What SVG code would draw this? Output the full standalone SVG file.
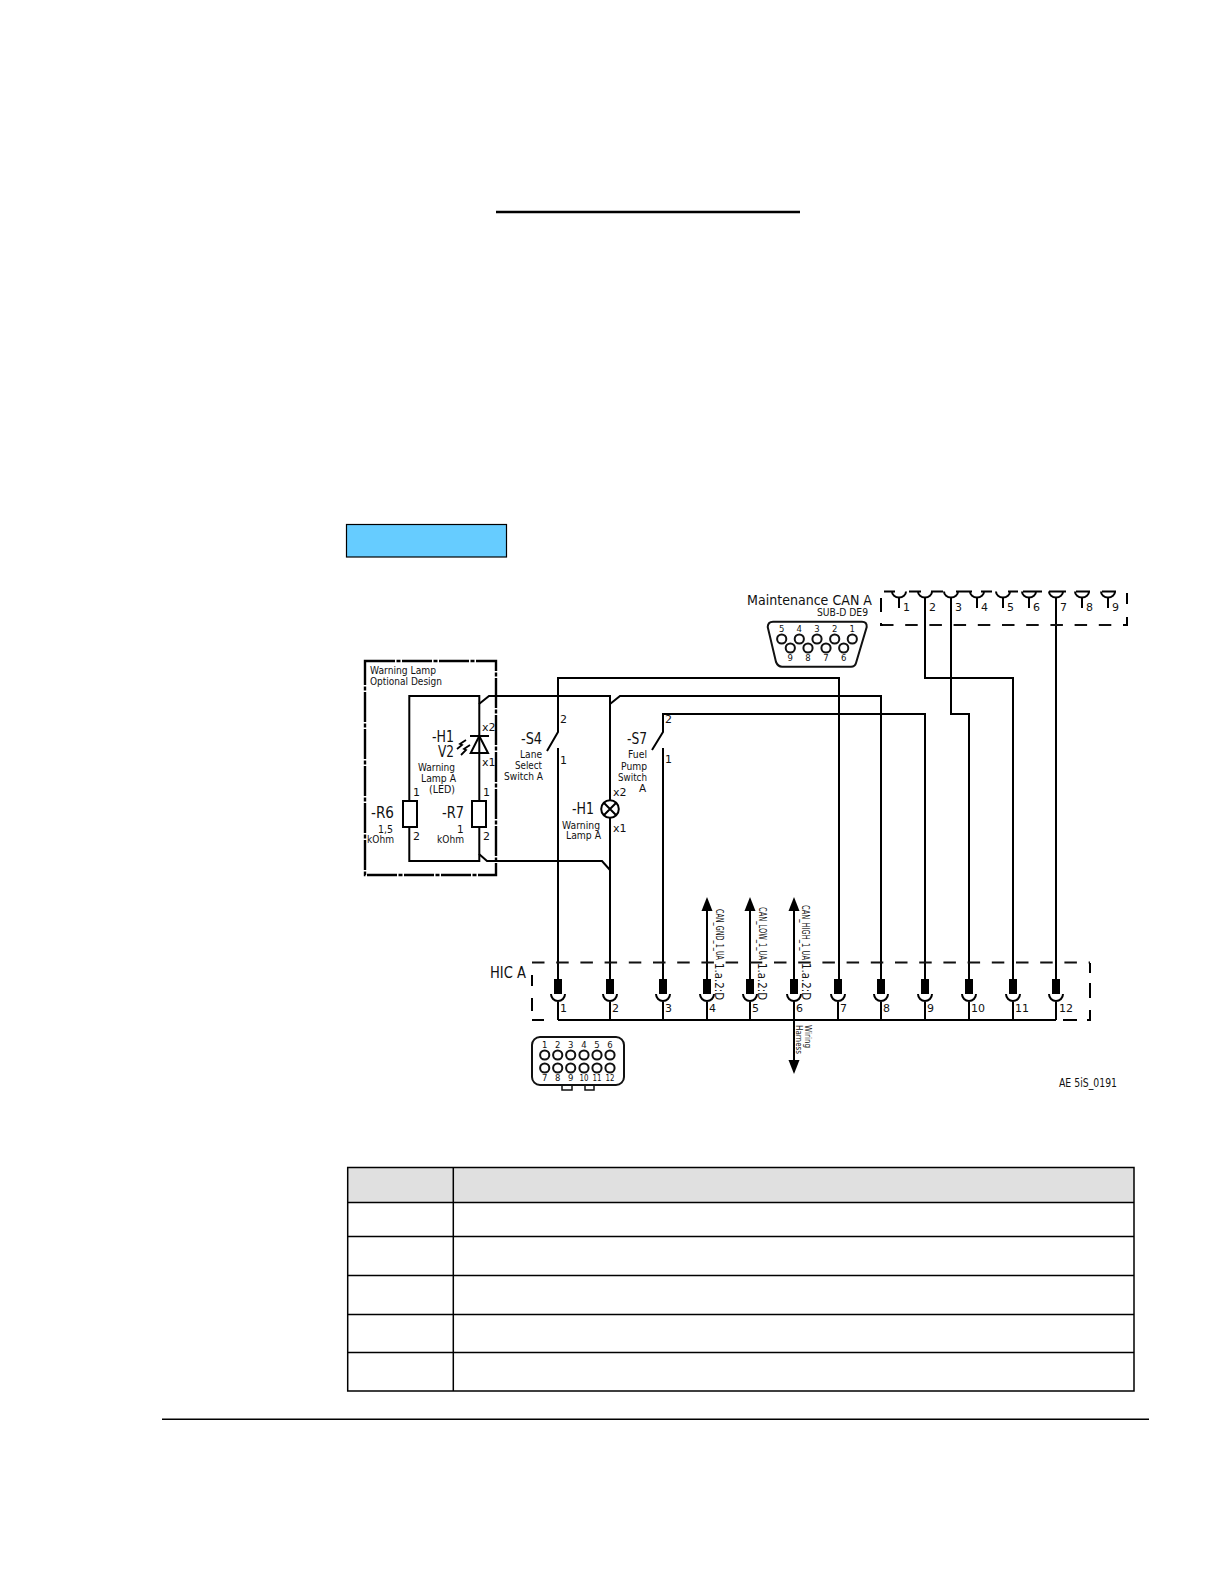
<svg xmlns="http://www.w3.org/2000/svg" xmlns:xlink="http://www.w3.org/1999/xlink" width="1224" height="1584" viewBox="0 0 1224 1584">
<style>
text{font-family:"DejaVu Sans","Noto Sans",sans-serif;fill:#111;font-size:10.5px}
.w{fill:none;stroke:#000;stroke-width:2;stroke-linejoin:miter}
.t{fill:none;stroke:#000;stroke-width:1.5}
.d{fill:none;stroke:#111;stroke-width:2;stroke-dasharray:12.5 11.7}
.s{font-size:8.5px}
.m{font-size:11px}
.l{font-size:15px}
.c{fill:#fff;stroke:#111;stroke-width:2}
</style>
<defs>
<g id="pin"><rect x="-4" y="979" width="8" height="15" fill="#000"/><path class="w" d="M-7 994A7 7 0 0 0 7 994M0 1001V1020"/></g>
<g id="cup"><path class="w" d="M-7 591.5A7 6 0 0 0 7 591.5"/></g>
</defs>
<rect width="1224" height="1584" fill="#fff"/>
<g id="page">
<line x1="496" y1="212" x2="800" y2="212" stroke="#000" stroke-width="2.4"/>
<rect id="blue-box" x="346.5" y="524.5" width="160" height="32.5" fill="#66CCFF" stroke="#000" stroke-width="1.2"/>
<line x1="162" y1="1419.2" x2="1149" y2="1419.2" stroke="#000" stroke-width="1.4"/>
</g>
<g id="table">
<rect x="347.7" y="1167.5" width="786.3" height="35" fill="#E0E0E0"/>
<path class="t" d="M347.7 1167.5H1134V1391H347.7ZM453.3 1167.5V1391M347.7 1202.5H1134M347.7 1236.5H1134M347.7 1275.5H1134M347.7 1314.5H1134M347.7 1352.5H1134"/>
</g>
<g id="connectors">
<path class="w" d="M547 751L558 732V678H839V979"/>
<path class="w" d="M558 748V979"/>
<path class="w" d="M479 704L489 696H610V800M610 818V979"/>
<path class="w" d="M610 704L620 696H881V979"/>
<path class="w" d="M479 854L487 861H602L610 870"/>
<path class="w" d="M652 750L663 732V714H925V979"/>
<path class="w" d="M663 748V979"/>
<path class="w" d="M925 597V678H1013V979"/>
<path class="w" d="M951 597V714H969V979"/>
<path class="w" d="M1056 597V979"/>
<path class="w" d="M558 1020H1056"/>
<path class="w" d="M707 908V979M750 908V979M794 908V979M794 1001V1062"/>
<polygon points="707,897 701.5,911 712.5,911" fill="#000"/>
<polygon points="750,897 744.5,911 755.5,911" fill="#000"/>
<polygon points="794,897 788.5,911 799.5,911" fill="#000"/>
<polygon points="794,1074 788.5,1060 799.5,1060" fill="#000"/>
</g>
<g id="warning-lamp-box">
<rect x="365" y="661" width="131" height="214" fill="none" stroke="#000" stroke-width="2.4" stroke-dasharray="30 1.5 4 1.5"/>
<text x="370" y="674" textLength="66" lengthAdjust="spacingAndGlyphs">Warning Lamp</text>
<text x="370" y="684.5" textLength="72" lengthAdjust="spacingAndGlyphs">Optional Design</text>
</g>
<g id="H1-V2">
<path class="w" d="M409.3 801V696H479.3V801M479.3 827V861H409.3V827"/>
<path class="w" d="M470 736H489M479.3 736L470.7 753H488Z"/>
<path fill="none" stroke="#000" stroke-width="1.8" d="M457 749L462 745L460 744L466 740M461 755L466 750L464 749L470 745"/>
<text class="l" x="432" y="741.5" textLength="22" lengthAdjust="spacingAndGlyphs">-H1</text>
<text class="l" x="438" y="757" textLength="16" lengthAdjust="spacingAndGlyphs">V2</text>
<text x="418" y="771" textLength="37" lengthAdjust="spacingAndGlyphs">Warning</text>
<text x="421" y="782" textLength="35" lengthAdjust="spacingAndGlyphs">Lamp A</text>
<text x="429" y="793" textLength="26" lengthAdjust="spacingAndGlyphs">(LED)</text>
<text class="m" x="482" y="731">x2</text>
<text class="m" x="482" y="766">x1</text>
</g>
<g id="R6">
<rect x="403" y="801" width="14" height="26" fill="#fff" stroke="#000" stroke-width="2"/>
<text class="m" x="413" y="796">1</text>
<text class="m" x="413" y="840">2</text>
<text class="l" x="371" y="818" textLength="23" lengthAdjust="spacingAndGlyphs">-R6</text>
<text x="378" y="833" textLength="15" lengthAdjust="spacingAndGlyphs">1,5</text>
<text x="367" y="843" textLength="27" lengthAdjust="spacingAndGlyphs">kOhm</text>
</g>
<g id="R7">
<rect x="472" y="801" width="14" height="26" fill="#fff" stroke="#000" stroke-width="2"/>
<text class="m" x="483" y="796">1</text>
<text class="m" x="483" y="840">2</text>
<text class="l" x="442" y="818" textLength="22" lengthAdjust="spacingAndGlyphs">-R7</text>
<text x="457" y="833">1</text>
<text x="437" y="843" textLength="27" lengthAdjust="spacingAndGlyphs">kOhm</text>
</g>
<g id="S4">
<text class="l" x="521" y="744" textLength="21" lengthAdjust="spacingAndGlyphs">-S4</text>
<text x="520" y="758" textLength="22" lengthAdjust="spacingAndGlyphs">Lane</text>
<text x="515" y="769" textLength="27" lengthAdjust="spacingAndGlyphs">Select</text>
<text x="504" y="780" textLength="39" lengthAdjust="spacingAndGlyphs">Switch A</text>
<text class="m" x="560" y="723">2</text>
<text class="m" x="560" y="764">1</text>
</g>
<g id="S7">
<text class="l" x="627" y="744" textLength="20" lengthAdjust="spacingAndGlyphs">-S7</text>
<text x="628" y="758" textLength="19" lengthAdjust="spacingAndGlyphs">Fuel</text>
<text x="621" y="770" textLength="26" lengthAdjust="spacingAndGlyphs">Pump</text>
<text x="618" y="781" textLength="29" lengthAdjust="spacingAndGlyphs">Switch</text>
<text x="639" y="792">A</text>
<text class="m" x="665" y="723">2</text>
<text class="m" x="665" y="763">1</text>
</g>
<g id="H1-lamp">
<circle cx="610" cy="809" r="8.8" fill="#fff" stroke="#000" stroke-width="2"/>
<path class="w" d="M603.8 802.8L616.2 815.2M616.2 802.8L603.8 815.2"/>
<text class="m" x="613" y="796">x2</text>
<text class="m" x="613" y="832">x1</text>
<text class="l" x="572" y="814" textLength="22" lengthAdjust="spacingAndGlyphs">-H1</text>
<text x="562" y="829" textLength="38" lengthAdjust="spacingAndGlyphs">Warning</text>
<text x="566" y="839" textLength="35" lengthAdjust="spacingAndGlyphs">Lamp A</text>
</g>
<g id="maintenance-can-a">
<text x="747" y="605" style="font-size:14px" textLength="125" lengthAdjust="spacingAndGlyphs">Maintenance CAN A</text>
<text x="817" y="615.5" textLength="51" lengthAdjust="spacingAndGlyphs">SUB-D DE9</text>
<path class="d" d="M881 625H1127"/>
<path class="w" d="M881 598V612M881 623V625H883M1127 593V604M1127 617V625H1123"/>
<path class="w" d="M884 591.5H895M909 591.5H921M931 591.5H943M956 591.5H972M981 591.5H992M1008 591.5H1018M1023 591.5H1042M1049 591.5H1066M1076 591.5H1090M1102 591.5H1116"/>
<use href="#cup" x="899"/><use href="#cup" x="925"/><use href="#cup" x="951"/><use href="#cup" x="977"/><use href="#cup" x="1003"/><use href="#cup" x="1029"/><use href="#cup" x="1056"/><use href="#cup" x="1082"/><use href="#cup" x="1108"/>
<path class="w" d="M899 597V608M977 597V608M1003 597V608M1029 597V608M1082 597V608M1108 597V608"/>
<text class="m" x="903" y="611">1</text><text class="m" x="929" y="611">2</text><text class="m" x="955" y="611">3</text><text class="m" x="981" y="611">4</text><text class="m" x="1007" y="611">5</text><text class="m" x="1033" y="611">6</text><text class="m" x="1060" y="611">7</text><text class="m" x="1086" y="611">8</text><text class="m" x="1112" y="611">9</text>
</g>
<g id="sub-d-de9">
<path fill="#fff" stroke="#111" stroke-width="2" d="M767.7 627Q768 621.7 773 621.7H862Q867 621.7 866.7 627L856 663Q855 666.7 851 666.7H782Q778 666.7 776 662Z"/>
<circle class="c" cx="781.7" cy="639" r="4.6"/><circle class="c" cx="799.3" cy="639" r="4.6"/><circle class="c" cx="817" cy="639" r="4.6"/><circle class="c" cx="834.7" cy="639" r="4.6"/><circle class="c" cx="852.3" cy="639" r="4.6"/>
<circle class="c" cx="790.3" cy="648" r="4.6"/><circle class="c" cx="808" cy="648" r="4.6"/><circle class="c" cx="826" cy="648" r="4.6"/><circle class="c" cx="843.7" cy="648" r="4.6"/>
<g text-anchor="middle">
<text class="s" x="781.7" y="632">5</text><text class="s" x="799.3" y="632">4</text><text class="s" x="817" y="632">3</text><text class="s" x="834.7" y="632">2</text><text class="s" x="852.3" y="632">1</text>
<text class="s" x="790.3" y="661">9</text><text class="s" x="808" y="661">8</text><text class="s" x="826" y="661">7</text><text class="s" x="843.7" y="661">6</text>
</g>
</g>
<g id="hic-a">
<text class="l" x="490" y="978" textLength="36" lengthAdjust="spacingAndGlyphs">HIC A</text>
<path class="d" d="M532 962.5H1090"/>
<path class="w" d="M532 975V986M532 998V1011M532 1020H544M1063 1020H1077M1087 1020H1090V1010M1090 998V983M1090 973V963"/>
<use href="#pin" x="558"/><use href="#pin" x="610"/><use href="#pin" x="663"/><use href="#pin" x="707"/><use href="#pin" x="750"/><use href="#pin" x="794"/><use href="#pin" x="838"/><use href="#pin" x="881"/><use href="#pin" x="925"/><use href="#pin" x="969"/><use href="#pin" x="1013"/><use href="#pin" x="1056"/>
<text class="m" x="560" y="1012">1</text><text class="m" x="612" y="1012">2</text><text class="m" x="665" y="1012">3</text><text class="m" x="709" y="1012">4</text><text class="m" x="752" y="1012">5</text><text class="m" x="796" y="1012">6</text><text class="m" x="840" y="1012">7</text><text class="m" x="883" y="1012">8</text><text class="m" x="927" y="1012">9</text><text class="m" x="971" y="1012">10</text><text class="m" x="1015" y="1012">11</text><text class="m" x="1059" y="1012">12</text>
</g>
<g id="signal-labels">
<text transform="translate(715.5 909) rotate(90)" textLength="51" lengthAdjust="spacingAndGlyphs">CAN_GND_1_UA</text>
<text transform="translate(714.5 963) rotate(90)" style="font-size:13px" textLength="37" lengthAdjust="spacingAndGlyphs">1.a.2:D</text>
<text transform="translate(758.5 907) rotate(90)" textLength="53" lengthAdjust="spacingAndGlyphs">CAN_LOW_1_UA</text>
<text transform="translate(758 963) rotate(90)" style="font-size:13px" textLength="37" lengthAdjust="spacingAndGlyphs">1.a.2:D</text>
<text transform="translate(801.5 905) rotate(90)" textLength="55" lengthAdjust="spacingAndGlyphs">CAN_HIGH_1_UA</text>
<text transform="translate(801.5 963) rotate(90)" style="font-size:13px" textLength="37" lengthAdjust="spacingAndGlyphs">1.a.2:D</text>
<text transform="translate(804.5 1025) rotate(90)" style="font-size:8px" textLength="23" lengthAdjust="spacingAndGlyphs">Wiring</text>
<text transform="translate(796 1025) rotate(90)" style="font-size:8px" textLength="29" lengthAdjust="spacingAndGlyphs">Harness</text>
<text x="1059" y="1087" style="font-size:13px" textLength="58" lengthAdjust="spacingAndGlyphs">AE 5iS_0191</text>
</g>
<g id="hic-connector">
<rect x="562" y="1084" width="10" height="6" fill="#fff" stroke="#111" stroke-width="1.5"/>
<rect x="585" y="1084" width="9" height="6" fill="#fff" stroke="#111" stroke-width="1.5"/>
<rect x="532" y="1037" width="92" height="48" rx="8" fill="#fff" stroke="#111" stroke-width="2"/>
<circle class="c" cx="544.7" cy="1055" r="4.6"/><circle class="c" cx="557.7" cy="1055" r="4.6"/><circle class="c" cx="570.7" cy="1055" r="4.6"/><circle class="c" cx="584" cy="1055" r="4.6"/><circle class="c" cx="597" cy="1055" r="4.6"/><circle class="c" cx="610" cy="1055" r="4.6"/>
<circle class="c" cx="544.7" cy="1068" r="4.6"/><circle class="c" cx="557.7" cy="1068" r="4.6"/><circle class="c" cx="570.7" cy="1068" r="4.6"/><circle class="c" cx="584" cy="1068" r="4.6"/><circle class="c" cx="597" cy="1068" r="4.6"/><circle class="c" cx="610" cy="1068" r="4.6"/>
<g text-anchor="middle">
<text class="s" x="544.7" y="1048">1</text><text class="s" x="557.7" y="1048">2</text><text class="s" x="570.7" y="1048">3</text><text class="s" x="584" y="1048">4</text><text class="s" x="597" y="1048">5</text><text class="s" x="610" y="1048">6</text>
<text class="s" x="544.7" y="1081">7</text><text class="s" x="557.7" y="1081">8</text><text class="s" x="570.7" y="1081">9</text><text class="s" x="584" y="1081" textLength="9" lengthAdjust="spacingAndGlyphs">10</text><text class="s" x="597" y="1081" textLength="9" lengthAdjust="spacingAndGlyphs">11</text><text class="s" x="610" y="1081" textLength="9" lengthAdjust="spacingAndGlyphs">12</text>
</g>
</g>
</svg>
